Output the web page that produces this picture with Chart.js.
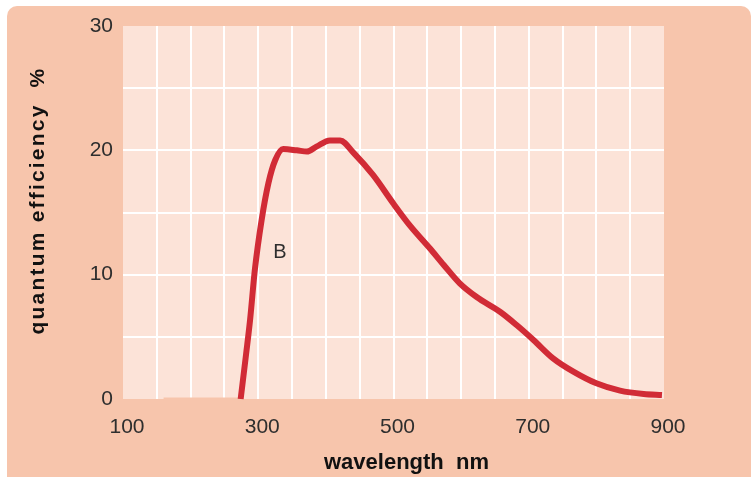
<!DOCTYPE html>
<html>
<head>
<meta charset="utf-8">
<script src="https://cdn.jsdelivr.net/npm/chart.js@4.4.1/dist/chart.umd.min.js"></script>
<style>
  html, body { margin: 0; padding: 0; background: #ffffff; }
  #wrap { width: 752px; height: 477px; }
</style>
</head>
<body>
<div id="wrap"><canvas id="c" width="752" height="477"></canvas></div>
<script>
// ---- data ----
const wavelength = [274, 282, 288, 295, 305, 315, 325, 337, 357, 372, 386, 406, 421, 441, 470, 500, 525, 554, 574, 598, 623, 658, 682, 707, 736, 766, 800, 835, 870, 897];
const quantumEff = [0, 3.6, 6.4, 10.4, 14.4, 17.35, 19.2, 20.1, 20.0, 19.9, 20.3, 20.8, 20.8, 19.8, 18.0, 15.7, 13.9, 12.1, 10.8, 9.3, 8.2, 7.0, 5.95, 4.75, 3.27, 2.2, 1.26, 0.67, 0.4, 0.32];
const zeroWavelength = [160, 274];
const zeroEff = [0, 0];
const xTickLabels = [100, 300, 500, 700, 900];
const yTickLabels = [0, 10, 20, 30];
const curveLabel = 'B';
const curveLabelAt = [332, 11.8];

const PANEL = '#f7c5ac';
const PLOT_BG = '#fce3d8';
const RED = '#d12b36';
const FONT = '"Liberation Sans", Arial, sans-serif';

const curvePts = wavelength.map((w, i) => ({ x: w, y: quantumEff[i] }));
const zeroPts = zeroWavelength.map((w, i) => ({ x: w, y: zeroEff[i] }));

const spacing = { x: { title: 0, labels: 0 }, y: { title: 2.2, labels: 0 } };
const titleShift = { x: [13, 0], y: [0, -12] };

const backgroundPlugin = {
  id: 'bgPanel',
  beforeDraw(chart) {
    const ctx = chart.ctx;
    const { left, top, right, bottom } = chart.chartArea;
    ctx.save();
    ctx.fillStyle = '#ffffff';
    ctx.fillRect(0, 0, chart.width, chart.height);
    ctx.fillStyle = PANEL;
    ctx.beginPath();
    ctx.roundRect(7, 6, chart.width - 8, chart.height - 6, [10, 10, 0, 0]);
    ctx.fill();
    ctx.fillStyle = PLOT_BG;
    ctx.fillRect(left, top, right - left, bottom - top);
    ctx.restore();
    Object.values(chart.scales).forEach(scale => {
      if (scale._wrapped) return;
      const proto = Object.getPrototypeOf(scale);
      const sp = spacing[scale.id];
      const sh = titleShift[scale.id];
      scale.drawTitle = function () {
        const c = this.ctx;
        c.save();
        c.letterSpacing = sp.title + 'px';
        c.translate(sh[0], sh[1]);
        proto.drawTitle.call(this);
        c.restore();
      };
      scale.drawLabels = function (area) {
        const c = this.ctx;
        c.save();
        c.letterSpacing = sp.labels + 'px';
        proto.drawLabels.call(this, area);
        c.restore();
      };
      scale._wrapped = true;
    });
  },
  afterDatasetsDraw(chart) {
    const ctx = chart.ctx;
    const xs = chart.scales.x, ys = chart.scales.y;
    ctx.save();
    ctx.font = '20px ' + FONT;
    ctx.fillStyle = '#2e2e2e';
    ctx.textAlign = 'center';
    ctx.textBaseline = 'middle';
    ctx.fillText(curveLabel, xs.getPixelForValue(curveLabelAt[0]), ys.getPixelForValue(curveLabelAt[1]));
    ctx.restore();
  }
};

const gridColor = (ctx) => {
  const v = ctx.tick ? ctx.tick.value : null;
  if (ctx.scale.id === 'x' && (v === 100 || v === 900)) return 'rgba(0,0,0,0)';
  if (ctx.scale.id === 'y' && (v === 0 || v === 30)) return 'rgba(0,0,0,0)';
  return '#ffffff';
};

new Chart(document.getElementById('c'), {
  type: 'line',
  data: {
    datasets: [
      {
        data: curvePts,
        borderColor: RED,
        borderWidth: 6,
        pointRadius: 0,
        cubicInterpolationMode: 'monotone',
        fill: false,
        borderCapStyle: 'butt',
        borderJoinStyle: 'round',
        clip: 6
      },
      {
        data: zeroPts,
        borderColor: PANEL,
        borderWidth: 3,
        pointRadius: 0,
        fill: false,
        clip: 6
      }
    ]
  },
  plugins: [backgroundPlugin],
  options: {
    responsive: false,
    animation: false,
    events: [],
    layout: { padding: { left: 0, top: 26, right: 88, bottom: 0 } },
    plugins: { legend: { display: false }, tooltip: { enabled: false } },
    scales: {
      x: {
        type: 'linear',
        min: 100,
        max: 900,
        afterFit(scale) { scale.height = 78; },
        border: { display: false },
        grid: { color: gridColor, lineWidth: 2, drawTicks: false },
        afterBuildTicks(scale) {
          const t = [];
          for (let v = 100; v <= 900; v += 50) t.push({ value: v });
          scale.ticks = t;
        },
        ticks: {
          autoSkip: false,
          maxRotation: 0,
          padding: 16,
          labelOffset: 4,
          color: '#2e2e2e',
          font: { family: FONT, size: 21 },
          callback: (v) => xTickLabels.includes(v) ? String(v) : ''
        },
        title: {
          display: true,
          text: 'wavelength  nm',
          color: '#111111',
          font: { family: FONT, size: 22, weight: 'bold' },
          padding: { top: 0, bottom: 1 }
        }
      },
      y: {
        type: 'linear',
        min: 0,
        max: 30,
        afterFit(scale) { scale.width = 123; },
        border: { display: false },
        grid: { color: gridColor, lineWidth: 2, drawTicks: false },
        afterBuildTicks(scale) {
          const t = [];
          for (let v = 0; v <= 30; v += 5) t.push({ value: v });
          scale.ticks = t;
        },
        ticks: {
          autoSkip: false,
          padding: 10,
          color: '#2e2e2e',
          font: { family: FONT, size: 21 },
          callback: (v) => yTickLabels.includes(v) ? String(v) : ''
        },
        title: {
          display: true,
          text: 'quantum efficiency  %',
          color: '#111111',
          font: { family: FONT, size: 21, weight: 'bold' },
          padding: { top: 26, bottom: 0 }
        }
      }
    }
  }
});
</script>
</body>
</html>
